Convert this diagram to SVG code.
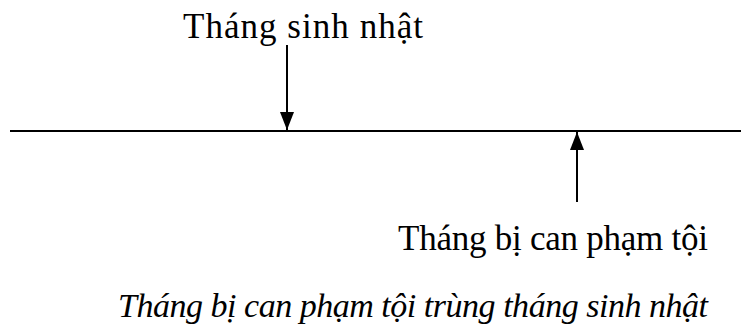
<svg xmlns="http://www.w3.org/2000/svg" width="741" height="331" viewBox="0 0 741 331">
<style>
text{font-family:"Liberation Serif","Times New Roman",serif;font-size:35px;fill:#000}
.c{stroke:#000;stroke-width:2;fill:none}
.i{font-style:italic;font-size:34px}
</style>
<defs>
<marker id="ah" markerWidth="18" markerHeight="14" refX="18" refY="7" orient="auto" markerUnits="userSpaceOnUse"><path d="M0,0 L18,7 L0,14 z" fill="#000"/></marker>
</defs>
<g id="timeline"><line class="c" x1="10" y1="131" x2="741" y2="131"/></g>
<g id="connectors">
<line class="c" x1="287" y1="45" x2="287" y2="130" marker-end="url(#ah)"/>
<line class="c" x1="577" y1="202" x2="577" y2="132" marker-end="url(#ah)"/>
</g>
<g id="birth"><text x="183" y="38" textLength="240" lengthAdjust="spacing">Tháng sinh nhật</text></g>
<g id="crime"><text x="398" y="250" textLength="310" lengthAdjust="spacing">Tháng bị can phạm tội</text></g>
<g id="caption"><text class="i" x="118" y="317" textLength="590" lengthAdjust="spacing">Tháng bị can phạm tội trùng tháng sinh nhật</text></g>
</svg>
